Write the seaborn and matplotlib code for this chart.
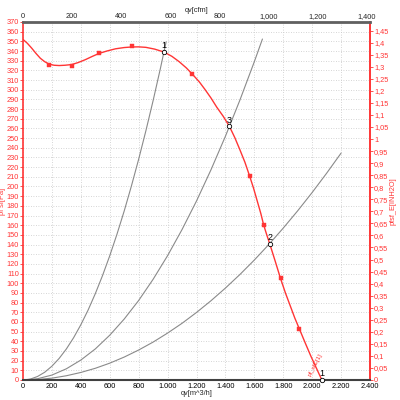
import numpy as np
import pandas as pd
import matplotlib
matplotlib.use('Agg')
import matplotlib.pyplot as plt
import seaborn as sns
from matplotlib.ticker import MultipleLocator, FuncFormatter

# 风机曲线数据 (qv [m^3/h], p [Pa])
fan_q = [0, 30, 60, 90, 120, 150, 180, 215, 250, 290, 336, 380, 430, 480, 526, 580,
         640, 700, 754, 800, 850, 910, 975, 1030, 1080, 1130, 1172, 1220, 1260, 1300,
         1340, 1385, 1428, 1465, 1500, 1535, 1567, 1595, 1620, 1645, 1665, 1686, 1706,
         1745, 1781, 1815, 1850, 1880, 1911, 1950, 1990, 2030, 2067]
fan_p = [352, 348, 343, 337.5, 332.5, 329, 326.5, 325.3, 325, 325.3, 326, 328, 331,
         334.5, 337.5, 340, 342.3, 343.6, 344.2, 344.3, 343.8, 342, 339, 334.5, 329,
         322.5, 316, 308, 300, 291.5, 282, 272.5, 262, 250.5, 238, 225, 211, 198, 185,
         172, 160, 150, 141, 122.5, 105, 90, 76, 64, 53, 39, 25, 12, 0]

# 测量点
meas_q = [178, 336, 526, 754, 1172, 1567, 1665, 1781, 1911]
meas_p = [326, 325, 337.5, 345, 316, 211, 160, 105, 53]

# 系统曲线
sys1_q = [0, 50, 100, 150, 200, 250, 300, 350, 400, 450, 500, 550, 600, 650, 700,
          750, 800, 850, 900, 950, 990]
sys1_p = [0, 0.9, 3.6, 8.0, 14.3, 22.3, 32.1, 43.7, 57.1, 72.2, 89.2, 107.9, 128.4,
          150.7, 174.7, 200.6, 228.2, 257.6, 288.8, 321.8, 349.5]
sys2_q = [0, 100, 200, 300, 400, 500, 600, 700, 800, 900, 1000, 1100, 1200, 1300,
          1400, 1500, 1600, 1656]
sys2_p = [0, 1.3, 5.1, 11.6, 20.6, 32.1, 46.3, 63.0, 82.2, 104.1, 128.5, 155.5,
          185.0, 217.2, 251.9, 289.2, 329.0, 352.4]
sys3_q = [0, 100, 200, 300, 400, 500, 600, 700, 800, 900, 1000, 1100, 1200, 1300,
          1400, 1500, 1600, 1700, 1800, 1900, 2000, 2100, 2200]
sys3_p = [0, 0.5, 1.9, 4.4, 7.8, 12.1, 17.4, 23.7, 31.0, 39.2, 48.5, 58.6, 69.8,
          81.9, 95.0, 109.0, 124.0, 140.0, 157.0, 174.9, 193.8, 213.7, 234.5]

# 工作点
op_q = [975, 1428, 1706, 2067]
op_p = [339, 262, 141, 0]
op_labels = ['1', '3', '2', '1']

RED = '#ff3535'
GRAY = '#8a8a8a'
FS = 5.3

sns.set_style('white')
plt.rcParams['font.family'] = ['Liberation Sans', 'DejaVu Sans']
plt.rcParams['font.size'] = FS

fig = plt.figure(figsize=(4, 4), dpi=100)
ax = fig.add_axes([0.0575, 0.05, 0.8675, 0.895])

for q, p in [(sys1_q, sys1_p), (sys2_q, sys2_p), (sys3_q, sys3_p)]:
    sns.lineplot(x=q, y=p, ax=ax, color=GRAY, lw=0.8, sort=False)

sns.lineplot(x=fan_q, y=fan_p, ax=ax, color=RED, lw=1.0, sort=False)
sns.scatterplot(x=meas_q, y=meas_p, ax=ax, color=RED, marker='s', s=5,
                edgecolor=RED, linewidth=0.3, zorder=5)
sns.scatterplot(x=op_q, y=op_p, ax=ax, facecolor='white', edgecolor='black',
                marker='o', s=10, linewidth=0.6, zorder=6, clip_on=False)
for q, p, t in zip(op_q, op_p, op_labels):
    ax.text(q, p + 2, t, fontsize=6.5, color='black', ha='center', va='bottom', zorder=7)

ax.text(2020, 16, 'pf_sfE[1]', color=RED, fontsize=4.5, rotation=62,
        ha='center', va='center')

ax.set_xlim(0, 2400)
ax.set_ylim(0, 370)
ax.xaxis.set_major_locator(MultipleLocator(200))
ax.yaxis.set_major_locator(MultipleLocator(10))
ax.xaxis.set_major_formatter(FuncFormatter(lambda v, _: f'{int(v):,}'.replace(',', '.')))
ax.grid(True, color='#c8c8c8', linestyle=(0, (1, 2)), lw=0.6)
ax.set_xlabel('qv[m^3/h]', fontsize=FS, labelpad=0)
ax.set_ylabel('pf sf[Pa]', fontsize=FS, color=RED, labelpad=0)
ax.tick_params(axis='y', colors=RED, labelsize=FS, length=2, width=0.6, pad=1, left=True)
ax.tick_params(axis='x', colors='black', labelsize=FS, length=0, pad=2, bottom=True)

for s in ['left', 'right']:
    ax.spines[s].set_color(RED)
    ax.spines[s].set_linewidth(1.2)
ax.spines['bottom'].set_color('#404040')
ax.spines['bottom'].set_linewidth(1.5)
ax.spines['top'].set_color('#606060')
ax.spines['top'].set_linewidth(2)

# 上方 cfm 轴
top = ax.secondary_xaxis('top', functions=(lambda q: q / 1.699, lambda c: c * 1.699))
top.xaxis.set_major_locator(MultipleLocator(200))
top.xaxis.set_major_formatter(FuncFormatter(lambda v, _: f'{int(v):,}'))
top.tick_params(labelsize=FS, length=0, pad=1.5)
top.set_xlabel('qv[cfm]', fontsize=FS, labelpad=0.5)

# 右侧 inH2O 轴
right = ax.secondary_yaxis('right', functions=(lambda p: p / 249.0, lambda w: w * 249.0))
right.yaxis.set_major_locator(MultipleLocator(0.05))
right.yaxis.set_major_formatter(FuncFormatter(lambda v, _: f'{v:g}'.replace('.', ',')))
right.tick_params(colors=RED, labelsize=FS, length=2, width=0.6, pad=1)
right.set_ylabel('pfsf_E[INH2O]', fontsize=FS, color=RED, labelpad=1)
right.spines['right'].set_color(RED)
right.spines['right'].set_linewidth(1.2)

fig.savefig('out.png', dpi=100)
